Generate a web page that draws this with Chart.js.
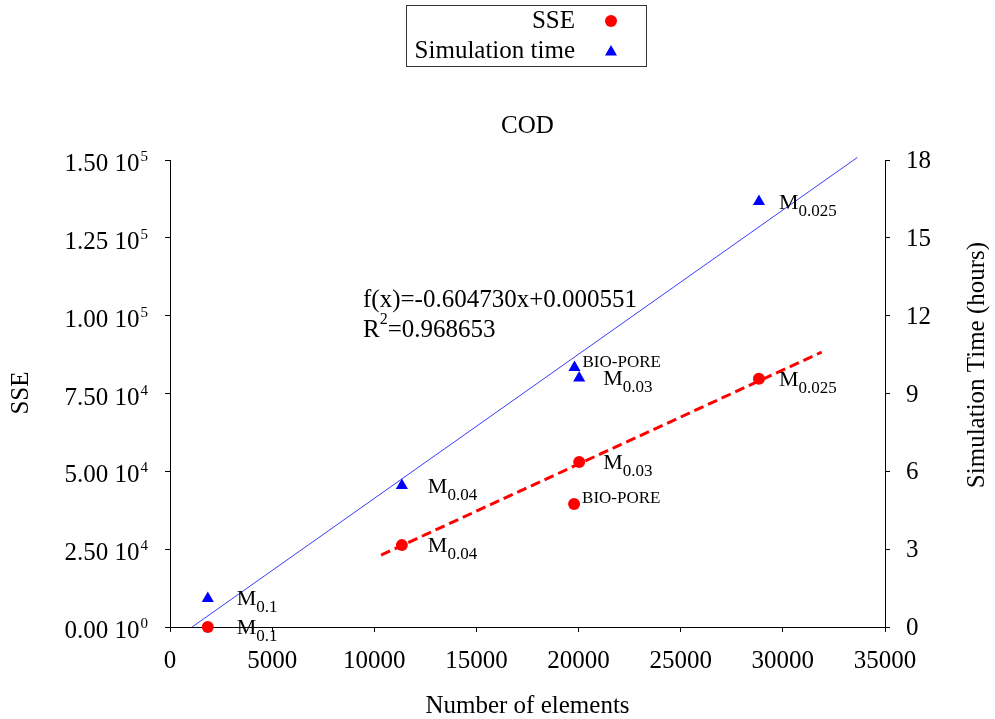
<!DOCTYPE html>
<html lang="en">
<head>
<meta charset="UTF-8" />
<title>COD</title>
<script src="https://cdn.jsdelivr.net/npm/chart.js"></script>
<style>body{margin:0;background:#fff}</style>
</head>
<body>
<canvas id="chart" width="995" height="719"></canvas>
<script>
// data
const pointNames = ['M|0.1', 'M|0.04', 'BIO-PORE', 'M|0.03', 'M|0.025'];
const elementsSSE = [1850, 11350, 19780, 20030, 28830];
const sseValues = [0, 26300, 39500, 53000, 79700];
const elementsTime = [1850, 11350, 19800, 20030, 28830];
const timeValues = [1.1, 5.45, 10.0, 9.6, 16.4];
const sseFitX = [10330, 31900];
const sseFitY = [23100, 88300];
const timeFitX = [1080, 33650];
const timeFitY = [0, 18.1];
const xTicks = [0, 5000, 10000, 15000, 20000, 25000, 30000, 35000];
const sseTicks = [0, 25000, 50000, 75000, 100000, 125000, 150000];
const sseTickLabels = [['0.00 10', '0'], ['2.50 10', '4'], ['5.00 10', '4'], ['7.50 10', '4'], ['1.00 10', '5'], ['1.25 10', '5'], ['1.50 10', '5']];
const timeTicks = [0, 3, 6, 9, 12, 15, 18];

const SERIF = '"Liberation Serif", "Times New Roman", serif';
const labelDx = [29, 26, 8, 24, 20];

function pts(xs, ys) { return xs.map((x, i) => ({ x: x, y: ys[i] })); }

const drawText = {
  id: 'drawText',
  afterDraw(chart) {
    const ctx = chart.ctx;
    const sx = chart.scales.x, sy = chart.scales.y, sy2 = chart.scales.y2;
    const area = chart.chartArea;
    ctx.save();
    ctx.fillStyle = '#000';
    ctx.textBaseline = 'alphabetic';

    // x tick labels
    ctx.font = '25px ' + SERIF;
    ctx.textAlign = 'center';
    xTicks.forEach(v => ctx.fillText(String(v), sx.getPixelForValue(v), 668));

    // left tick labels with superscript
    sseTicks.forEach((v, i) => {
      const y = sy.getPixelForValue(v);
      ctx.font = '15px ' + SERIF;
      const supW = ctx.measureText(sseTickLabels[i][1]).width;
      ctx.textAlign = 'left';
      ctx.fillText(sseTickLabels[i][1], 148 - supW, y + 1);
      ctx.font = '25px ' + SERIF;
      ctx.textAlign = 'right';
      ctx.fillText(sseTickLabels[i][0], 148 - supW - 1, y + 11);
    });

    // right tick labels
    ctx.font = '25px ' + SERIF;
    ctx.textAlign = 'left';
    timeTicks.forEach(v => ctx.fillText(String(v), 906, sy2.getPixelForValue(v) + 8));

    // axis titles
    ctx.textAlign = 'center';
    ctx.fillText('Number of elements', (area.left + area.right) / 2, 713);
    ctx.fillText('COD', (area.left + area.right) / 2, 133);
    ctx.save();
    ctx.translate(28, 393);
    ctx.rotate(-Math.PI / 2);
    ctx.fillText('SSE', 0, 0);
    ctx.restore();
    ctx.save();
    ctx.translate(984, 365);
    ctx.rotate(-Math.PI / 2);
    ctx.fillText('Simulation Time (hours)', 0, 0);
    ctx.restore();

    // regression text
    ctx.textAlign = 'left';
    ctx.fillText('f(x)=-0.604730x+0.000551', 363, 307);
    ctx.fillText('R', 363, 337);
    const rW = ctx.measureText('R').width;
    ctx.font = '16px ' + SERIF;
    ctx.fillText('2', 363 + rW, 324);
    const twoW = ctx.measureText('2').width;
    ctx.font = '25px ' + SERIF;
    ctx.fillText('=0.968653', 363 + rW + twoW, 337);

    // point labels
    [0, 1].forEach(d => {
      const meta = chart.getDatasetMeta(d);
      meta.data.forEach((el, i) => {
        const name = pointNames[i];
        const x = el.x + labelDx[i];
        if (name.indexOf('|') < 0) {
          ctx.font = '17px ' + SERIF;
          ctx.fillText(name, x, el.y - 1);
        } else {
          const parts = name.split('|');
          ctx.font = '22px ' + SERIF;
          ctx.fillText(parts[0], x, el.y + 7);
          const mW = ctx.measureText(parts[0]).width;
          ctx.font = '17px ' + SERIF;
          ctx.fillText(parts[1], x + mW, el.y + 14);
        }
      });
    });

    // legend
    ctx.strokeStyle = '#333';
    ctx.lineWidth = 1;
    ctx.strokeRect(406.5, 5.5, 240, 61);
    ctx.font = '25px ' + SERIF;
    ctx.textAlign = 'right';
    ctx.fillText('SSE', 575, 28);
    ctx.fillText('Simulation time', 575, 58);
    ctx.fillStyle = '#ff0000';
    ctx.beginPath();
    ctx.arc(611, 21, 6, 0, Math.PI * 2);
    ctx.fill();
    ctx.fillStyle = '#0000ff';
    ctx.beginPath();
    ctx.moveTo(611, 45);
    ctx.lineTo(617, 55.5);
    ctx.lineTo(605, 55.5);
    ctx.closePath();
    ctx.fill();
    ctx.restore();
  }
};

const axisGrid = { drawOnChartArea: false, color: '#000', tickLength: 5, lineWidth: 1 };

new Chart(document.getElementById('chart'), {
  type: 'scatter',
  data: {
    datasets: [
      {
        label: 'SSE',
        data: pts(elementsSSE, sseValues),
        yAxisID: 'y',
        pointStyle: 'circle',
        pointRadius: 6,
        backgroundColor: '#ff0000',
        borderColor: '#ff0000',
        borderWidth: 0,
        clip: false
      },
      {
        label: 'Simulation time',
        data: pts(elementsTime, timeValues),
        yAxisID: 'y2',
        pointStyle: 'triangle',
        pointRadius: 7,
        backgroundColor: '#0000ff',
        borderColor: '#0000ff',
        borderWidth: 0,
        clip: false
      },
      {
        label: 'SSE fit',
        data: pts(sseFitX, sseFitY),
        yAxisID: 'y',
        showLine: true,
        pointRadius: 0,
        borderColor: '#ff0000',
        borderWidth: 3,
        borderDash: [10, 5]
      },
      {
        label: 'Time fit',
        data: pts(timeFitX, timeFitY),
        yAxisID: 'y2',
        showLine: true,
        pointRadius: 0,
        borderColor: '#3a3aff',
        borderWidth: 1,
        clip: false
      }
    ]
  },
  options: {
    responsive: false,
    animation: false,
    layout: { padding: { top: 160, left: 0, right: 0, bottom: 0 } },
    plugins: { legend: { display: false }, tooltip: { enabled: false } },
    scales: {
      x: {
        type: 'linear', min: 0, max: 35000,
        ticks: { stepSize: 5000, display: false },
        grid: axisGrid,
        border: { color: '#000', width: 1 },
        afterFit(s) { s.height = 92; }
      },
      y: {
        type: 'linear', position: 'left', min: 0, max: 150000,
        ticks: { stepSize: 25000, display: false },
        grid: axisGrid,
        border: { color: '#000', width: 1 },
        afterFit(s) { s.width = 170; }
      },
      y2: {
        type: 'linear', position: 'right', min: 0, max: 18,
        ticks: { stepSize: 3, display: false },
        grid: axisGrid,
        border: { color: '#000', width: 1 },
        afterFit(s) { s.width = 110; }
      }
    }
  },
  plugins: [drawText]
});
</script>
</body>
</html>
